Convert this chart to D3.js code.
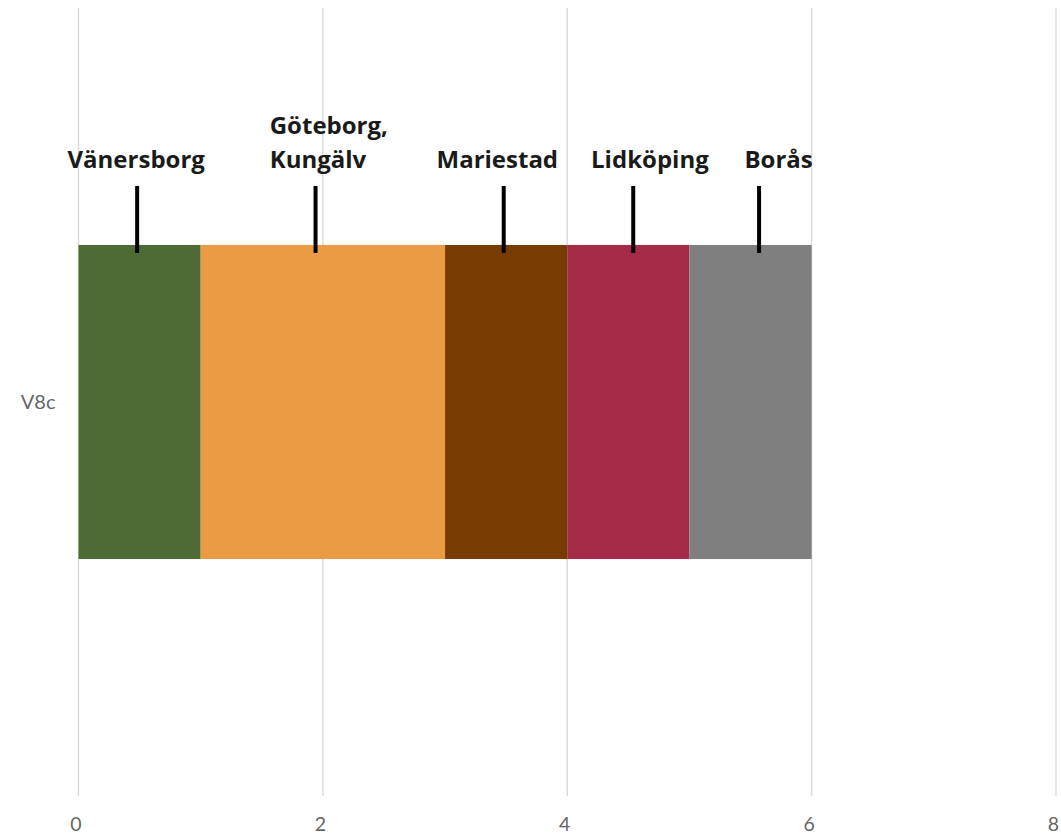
<!DOCTYPE html>
<html>
<head>
<meta charset="utf-8">
<script src="https://cdn.jsdelivr.net/npm/d3@7/dist/d3.min.js"></script>
<style>
  html, body { margin: 0; padding: 0; background: #ffffff; }
  svg { display: block; }
</style>
</head>
<body>
<svg id="chart" width="1061" height="835"></svg>
<script>
// ---- data ----
const categories = ["V8c"];
const seriesNames = ["Vänersborg", "Göteborg, Kungälv", "Mariestad", "Lidköping", "Borås"];
const seriesValues = [1, 2, 1, 1, 1];
const seriesColors = ["#4E6B35", "#E99C43", "#773C02", "#A52A47", "#7F7F7F"];
const labelLines = [["Vänersborg"], ["Göteborg,", "Kungälv"], ["Mariestad"], ["Lidköping"], ["Borås"]];
const markerValues = [0.48, 1.94, 3.48, 4.54, 5.57];
const labelStartValues = [-0.09, 1.565, 2.93, 4.195, 5.45];
const xTicks = [0, 2, 4, 6, 8];

// ---- layout ----
const W = 1061, H = 835;
const plot = { left: 78.5, right: 1056, top: 8, bottom: 796 };

const svg = d3.select("#chart");

const x = d3.scaleLinear().domain([0, 8]).range([plot.left, plot.right]);
const y = d3.scaleBand().domain(categories).range([plot.top, plot.bottom])
  .paddingInner(0.43).paddingOuter(0.43);

// gridlines
svg.append("g")
  .selectAll("line")
  .data(xTicks)
  .join("line")
  .attr("x1", d => x(d)).attr("x2", d => x(d))
  .attr("y1", plot.top).attr("y2", plot.bottom)
  .attr("stroke", "#d9d9d9")
  .attr("stroke-width", 1.4);

// x axis labels
const xAxis = d3.axisBottom(x).tickValues(xTicks).tickSize(0).tickPadding(0).tickFormat(d3.format("d"));
const gx = svg.append("g").attr("transform", `translate(-3, ${plot.bottom})`).call(xAxis);
gx.select(".domain").remove();
gx.selectAll("text")
  .attr("y", 35)
  .attr("dy", 0)
  .attr("fill", "#666666")
  .style("font-family", "Lato, 'Open Sans', sans-serif")
  .style("font-size", "19.5px");

// y axis label
const yAxis = d3.axisLeft(y).tickSize(0).tickPadding(0);
const gy = svg.append("g").attr("transform", `translate(${plot.left - 23}, 0)`).call(yAxis);
gy.select(".domain").remove();
gy.selectAll("text")
  .attr("fill", "#666666")
  .attr("dy", "0.35em")
  .style("font-family", "Lato, 'Open Sans', sans-serif")
  .style("font-size", "20px");

// stacked segments
const stacked = [];
let acc = 0;
seriesValues.forEach((v, i) => {
  stacked.push({ name: seriesNames[i], x0: acc, x1: acc + v, color: seriesColors[i] });
  acc += v;
});

svg.append("g")
  .selectAll("rect")
  .data(stacked)
  .join("rect")
  .attr("x", d => x(d.x0))
  .attr("width", d => x(d.x1) - x(d.x0))
  .attr("y", y(categories[0]))
  .attr("height", y.bandwidth())
  .attr("fill", d => d.color);

// annotation marker lines
const barTop = y(categories[0]);
svg.append("g")
  .selectAll("line")
  .data(markerValues)
  .join("line")
  .attr("x1", d => x(d)).attr("x2", d => x(d))
  .attr("y1", barTop - 59).attr("y2", barTop + 8)
  .attr("stroke", "#000000")
  .attr("stroke-width", 4);

// annotation labels
const lineHeight = 34;
const lastBaseline = barTop - 77;
const lg = svg.append("g");
labelLines.forEach((lines, i) => {
  const t = lg.append("text")
    .attr("x", x(labelStartValues[i]))
    .attr("fill", "#1a1a1a")
    .style("font-family", "'Open Sans', Lato, sans-serif")
    .style("font-weight", "700")
    .style("font-size", "24px");
  lines.forEach((ln, j) => {
    t.append("tspan")
      .attr("x", x(labelStartValues[i]))
      .attr("y", lastBaseline - (lines.length - 1 - j) * lineHeight)
      .text(ln);
  });
});
</script>
</body>
</html>
